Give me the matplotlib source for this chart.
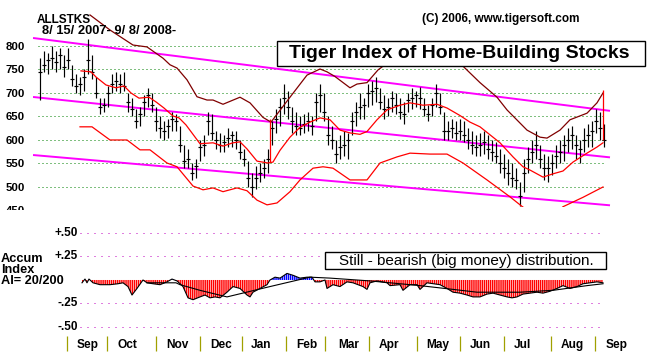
import matplotlib
matplotlib.use('Agg')
import matplotlib.pyplot as plt
import matplotlib.transforms as mtransforms
from matplotlib.patches import Rectangle
import numpy as np

plt.rcParams['font.family'] = ['Liberation Sans', 'DejaVu Sans']
plt.rcParams['hatch.linewidth'] = 1.05

# ---------------- data (bar index = one bar per two trading days) ----------------
bar_hi = [775, 790, 785, 800, 790, 795, 780, 795, 760, 740, 735, 750, 815, 780, 735, 690, 690, 715, 740, 745,
          740, 745, 700, 690, 665, 670, 695, 710, 700, 670, 650, 640, 645, 660, 655, 630, 590, 580, 550, 560,
          600, 610, 660, 655, 620, 615, 610, 625, 620, 620, 600, 580, 555, 530, 545, 550, 560, 580, 640, 665,
          690, 720, 705, 670, 660, 650, 655, 660, 650, 700, 720, 700, 650, 630, 600, 610, 620, 615, 660, 680,
          700, 690, 720, 725, 735, 710, 695, 690, 705, 700, 690, 680, 700, 710, 705, 712, 690, 675, 690, 720,
          700, 660, 640, 645, 640, 645, 640, 625, 620, 610, 615, 620, 610, 600, 595, 580, 570, 560, 550, 540,
          510, 560, 585, 600, 620, 590, 570, 565, 570, 590, 600, 610, 625, 630, 610, 600, 625, 635, 640, 665,
          660, 635]
bar_lo = [685, 745, 740, 750, 745, 750, 735, 750, 715, 700, 695, 705, 740, 730, 690, 655, 660, 670, 700, 705,
          700, 705, 660, 650, 625, 630, 650, 670, 660, 620, 605, 600, 605, 620, 620, 575, 540, 540, 515, 520,
          555, 565, 610, 600, 580, 575, 575, 585, 585, 580, 560, 545, 500, 478, 495, 510, 520, 530, 590, 615,
          630, 655, 645, 615, 610, 610, 615, 620, 610, 640, 660, 640, 590, 580, 550, 560, 565, 560, 610, 630,
          645, 645, 670, 675, 680, 665, 645, 650, 660, 655, 645, 635, 660, 665, 670, 665, 650, 640, 650, 670,
          655, 600, 600, 605, 600, 600, 595, 580, 570, 565, 565, 570, 560, 555, 550, 530, 520, 505, 500, 495,
          460, 490, 530, 550, 560, 540, 515, 510, 525, 540, 550, 555, 575, 580, 560, 550, 575, 585, 585, 615,
          600, 585]
bar_cl = [745, 760, 770, 775, 765, 780, 755, 770, 730, 715, 720, 735, 770, 745, 700, 670, 675, 700, 720, 725,
          720, 715, 680, 665, 640, 655, 680, 695, 675, 640, 625, 620, 630, 645, 640, 590, 555, 560, 530, 545,
          585, 590, 640, 615, 600, 590, 595, 605, 610, 600, 575, 560, 520, 500, 520, 530, 540, 560, 625, 645,
          670, 690, 670, 640, 630, 625, 635, 640, 630, 680, 695, 660, 610, 600, 570, 585, 590, 600, 640, 660,
          670, 675, 700, 705, 710, 680, 665, 670, 690, 675, 660, 655, 685, 690, 695, 690, 665, 655, 675, 700,
          670, 620, 620, 625, 615, 620, 610, 600, 590, 585, 590, 595, 580, 575, 565, 550, 540, 530, 520, 515,
          480, 530, 560, 575, 590, 560, 540, 540, 550, 565, 575, 590, 600, 610, 590, 580, 600, 610, 620, 640,
          625, 600]

ma_x = [10.25, 12.75, 14, 16.5, 19, 21, 22.75, 24.75, 27.25, 29, 31, 33.25, 34.75, 36.5, 38.25, 40, 43.25,
        45.75, 48.25, 50, 51.75, 54.25, 57, 58.25, 60, 62.5, 65, 67.5, 70, 72.5, 75, 77.5, 80, 81.75, 84.25,
        86.75, 90, 92.5, 95.75, 99.25, 101.75, 105, 107.5, 110, 112.5, 115, 118.25, 120.75, 122.5, 125.75,
        128.25, 130.75, 133.25, 136.75, 139.25, 140.75]
ma_v = [747, 745, 734, 717, 711, 715, 700, 689, 691, 681, 668, 651, 647, 632, 612, 592, 594,
        587, 594, 596, 581, 555, 551, 553, 578, 606, 627, 638, 647, 643, 621, 615, 612, 618, 643,
        664, 674, 679, 674, 676, 668, 652, 638, 628, 611, 594, 564, 543, 536, 521,
        528, 534, 553, 572, 585, 594]

low_x = [10, 13, 17.5, 21.75, 25, 27.5, 31.75, 34.25, 38.25, 40.75, 43.25, 45.75, 49.25, 51.75, 54.25,
         56.75, 59.25, 62.5, 65, 68.25, 70.75, 73.25, 77.5, 81.75, 85, 89.25, 92.5, 97.5, 101.75, 105.75,
         111.75, 117.5, 120.75, 125, 128.75, 130.75, 135.75, 140.75]
low_v = [628, 628, 600, 600, 579, 579, 551, 543, 502, 494, 498, 490, 498, 492, 472,
         462, 466, 490, 515, 540, 543, 540, 515, 515, 551, 564, 572, 570, 570, 551,
         515, 479, 457, 440, 442, 458, 478, 500]

up_x = [12.5, 17.5, 23.25, 26.75, 30.75, 32.5, 34.25, 36.75, 39.25, 41.75, 43.25, 45.75, 50, 52.5, 55.75,
        57.75, 62.5, 66.75, 70, 71.75, 73.75, 77.5, 79.25, 81.75, 84.5, 85.75, 90, 95.75, 101.25, 105.75,
        110, 114.25, 116.75, 121.75, 125, 126.75, 130, 132.5, 136.75, 139.25, 140.75]
up_v = [866, 834, 802, 798, 774, 760, 753, 728, 692, 685, 685, 676, 691, 679, 648,
        638, 691, 738, 751, 745, 735, 711, 719, 722, 749, 757, 792, 806, 792, 757,
        722, 691, 664, 621, 606, 604, 621, 643, 657, 679, 700]

trend_x = [-1.75, 142.5]
trend_top = [817, 662]
trend_mid = [691.5, 563]
trend_bot = [568, 461]

price_ticks = [500, 550, 600, 650, 700, 750, 800]

ai_x = [10.5, 11.25, 11.75, 12.25, 13.25, 15, 17.5, 19.5, 20.75, 22, 23, 24.25, 25.75, 26.75, 28.25, 30,
        31.75, 33, 34.25, 35.75, 37, 38.25, 40, 41.25, 42.5, 43.75, 45, 46.75, 48.25, 50, 51.75, 52.5, 53.25,
        55, 56.75, 57.5, 58.75, 60, 61.75, 63.25, 65, 66.75, 68, 68.75, 70, 71.25, 71.75, 73.25, 75, 76.75,
        78.25, 80.75, 81.75, 82.5, 84.25, 86.75, 87.5, 90, 90.75, 92.5, 94.25, 95, 96.75, 100, 101.75, 103.25,
        105, 106.75, 108.25, 110, 111.75, 113.25, 115, 116.75, 118, 119.25, 120.75, 122.5, 124.25, 125.75,
        127.5, 129.25, 130.75, 132.5, 134.25, 135.75, 137.5, 139.25, 140.75]
ai_v = [-0.03, 0.01, -0.03, 0.01, -0.03, -0.05, -0.05, -0.04, -0.03, -0.07, -0.16, -0.09, 0.0, -0.03, -0.04, -0.05,
        -0.02, 0.01, -0.01, -0.07, -0.19, -0.21, -0.18, -0.16, -0.19, -0.18, -0.19, -0.13, -0.07, -0.09, -0.16, -0.18, -0.13,
        -0.09, -0.05, 0.0, 0.03, 0.02, 0.07, 0.05, 0.02, 0.03, 0.03, -0.02, -0.02, 0.0, -0.09, -0.05, -0.07, -0.02,
        -0.03, -0.07, -0.10, -0.03, -0.01, -0.03, -0.06, -0.05, -0.11, -0.05, -0.05, -0.10, -0.03, -0.05, -0.09, -0.13,
        -0.14, -0.16, -0.18, -0.18, -0.15, -0.14, -0.16, -0.18, -0.19, -0.18, -0.15, -0.14, -0.13, -0.14,
        -0.12, -0.09, -0.06, -0.09, -0.07, -0.04, -0.03, -0.02, -0.03]

sm_x = [26.75, 34, 35, 40, 46.75, 57.5, 67.5, 72.5, 82.5, 95, 103.25, 109.25, 120, 128.25, 136.75, 140.75]
sm_v = [-0.03, -0.03, -0.05, -0.11, -0.18, -0.07, 0.03, 0.02, -0.01, -0.06, -0.10, -0.13, -0.13, -0.11, -0.06, -0.04]

ai_grid = [0.5, 0.25, -0.25, -0.5]
ai_labels = ['+.50', '+.25', '-.25', '-.50']

month_bounds = [6.75, 16.75, 29, 40, 50.5, 61.5, 71.25, 82.25, 94.25, 105, 116, 127.75, 138.75]
month_pos = [12, 21.75, 34.25, 45.25, 55.25, 66.75, 77.25, 87.25, 99.5, 110, 120.5, 133, 144.25]
month_names = ['Sep', 'Oct', 'Nov', 'Dec', 'Jan', 'Feb', 'Mar', 'Apr', 'May', 'Jun', 'Jul', 'Aug', 'Sep']

# ---------------- figure ----------------
W, H = 662, 352
fig = plt.figure(figsize=(W / 100, H / 100), dpi=100)
fig.patch.set_facecolor('white')


def rect(x0, y0, x1, y1):
    return [x0 / W, (H - y1) / H, (x1 - x0) / W, (y1 - y0) / H]


XL = (-1.75, 143.25)
ax = fig.add_axes(rect(33, 12, 613, 207))
ax2 = fig.add_axes(rect(33, 222, 613, 336))

# top panel
ax.set_xlim(XL)
ax.set_ylim(457.4, 872.3)
for s in ax.spines.values():
    s.set_visible(False)
ax.set_xticks([])
ax.set_yticks(price_ticks)
ax.set_yticklabels([str(v) for v in price_ticks], fontsize=8.2, fontweight='bold')
ax.tick_params(axis='y', length=0, pad=5.8)
ax.hlines(price_ticks, -0.5, 141, colors='#008000', linestyles=[(0, (1, 3))], linewidth=0.72, zorder=1)

for tv in (trend_top, trend_mid, trend_bot):
    ax.plot(trend_x, tv, color='#ff00ff', lw=1.4, zorder=2, solid_capstyle='butt')

idx = np.arange(len(bar_hi))
ax.vlines(idx, bar_lo, bar_hi, color='black', lw=0.85, zorder=3)
ax.hlines(bar_cl, idx - 0.45, idx + 0.45, color='black', lw=0.85, zorder=3)

ax.plot(ma_x, ma_v, color='#ff0000', lw=0.9, zorder=4)
ax.plot(low_x, low_v, color='#ff0000', lw=0.9, zorder=4)
ax.plot(up_x, up_v, color='#800000', lw=0.9, zorder=4)
ax.vlines([57.5], [553], [645], color='#ff0000', lw=0.9, zorder=4)
ax.vlines([140.75], [600], [706], color='#ff0000', lw=0.9, zorder=4)

# bottom panel
ax2.set_xlim(XL)
ax2.set_ylim(-0.596, 0.617)
for s in ax2.spines.values():
    s.set_visible(False)
ax2.set_yticks([])
ax2.set_xticks([])
ax2.set_xticks(month_bounds, minor=True)
ax2.tick_params(axis='x', which='minor', length=10.8, width=0.9, color='#a0a000', direction='out')
ax2.hlines(ai_grid, 10, 140, colors='#c000c0', linestyles=[(0, (1, 6))], linewidth=0.72)
for v, lab in zip(ai_grid, ai_labels):
    ax2.text(9.5, v, lab, ha='right', va='center', fontsize=8.5, fontweight='bold')

axv = np.array(ai_x)
aiv = np.array(ai_v)
ax2.fill_between(axv, 0, aiv, where=aiv <= 0, interpolate=True, facecolor='none',
                 edgecolor='#ff0000', hatch='||||||||', linewidth=0)
ax2.fill_between(axv, 0, aiv, where=aiv >= 0, interpolate=True, facecolor='none',
                 edgecolor='#0000ff', hatch='||||||||', linewidth=0)
ax2.plot(ai_x, ai_v, color='black', lw=0.8)
ax2.plot(sm_x, sm_v, color='black', lw=0.8)

tr = mtransforms.blended_transform_factory(ax2.transData, ax2.transAxes)
for p, m in zip(month_pos, month_names):
    ax2.text(p, -0.079, m, transform=tr, ha='center', va='center', fontsize=8.6,
             fontweight='bold', clip_on=False)

# overlay for annotations
ov = fig.add_axes([0, 0, 1, 1], zorder=10)
ov.set_xlim(0, W)
ov.set_ylim(H, 0)
ov.axis('off')
ov.patch.set_visible(False)

ov.text(37, 20, 'ALLSTKS', fontsize=8.5, fontweight='bold', va='center', ha='left')
ov.text(42, 31, '8/ 15/ 2007- 9/ 8/ 2008-', fontsize=9.3, fontweight='bold', va='center', ha='left')
ov.text(422, 19, '(C) 2006, www.tigersoft.com', fontsize=8.5, fontweight='bold', va='center', ha='left')
ov.add_patch(Rectangle((277, 41), 368, 25, facecolor='white', edgecolor='black', lw=1))
ov.text(459.5, 54, 'Tiger Index of Home-Building Stocks', fontsize=14, fontweight='bold',
        ha='center', va='center')
ov.add_patch(Rectangle((325, 252), 281, 17, facecolor='white', edgecolor='black', lw=1))
ov.text(466, 260.5, 'Still - bearish (big money) distribution.', fontsize=11, ha='center', va='center')
ov.text(1, 259, 'Accum', fontsize=9.2, fontweight='bold', va='center', ha='left')
ov.text(1, 270, 'Index', fontsize=9.2, fontweight='bold', va='center', ha='left')
ov.text(1, 281, 'AI= 20/200', fontsize=9.2, fontweight='bold', va='center', ha='left')
ov.text(25, 211, '450', fontsize=8.2, fontweight='bold', va='center', ha='right', zorder=1)
ov.add_patch(Rectangle((0, 209.5), 40, 10, facecolor='white', edgecolor='none', zorder=2))

fig.savefig('out.png', dpi=100, facecolor='white')
